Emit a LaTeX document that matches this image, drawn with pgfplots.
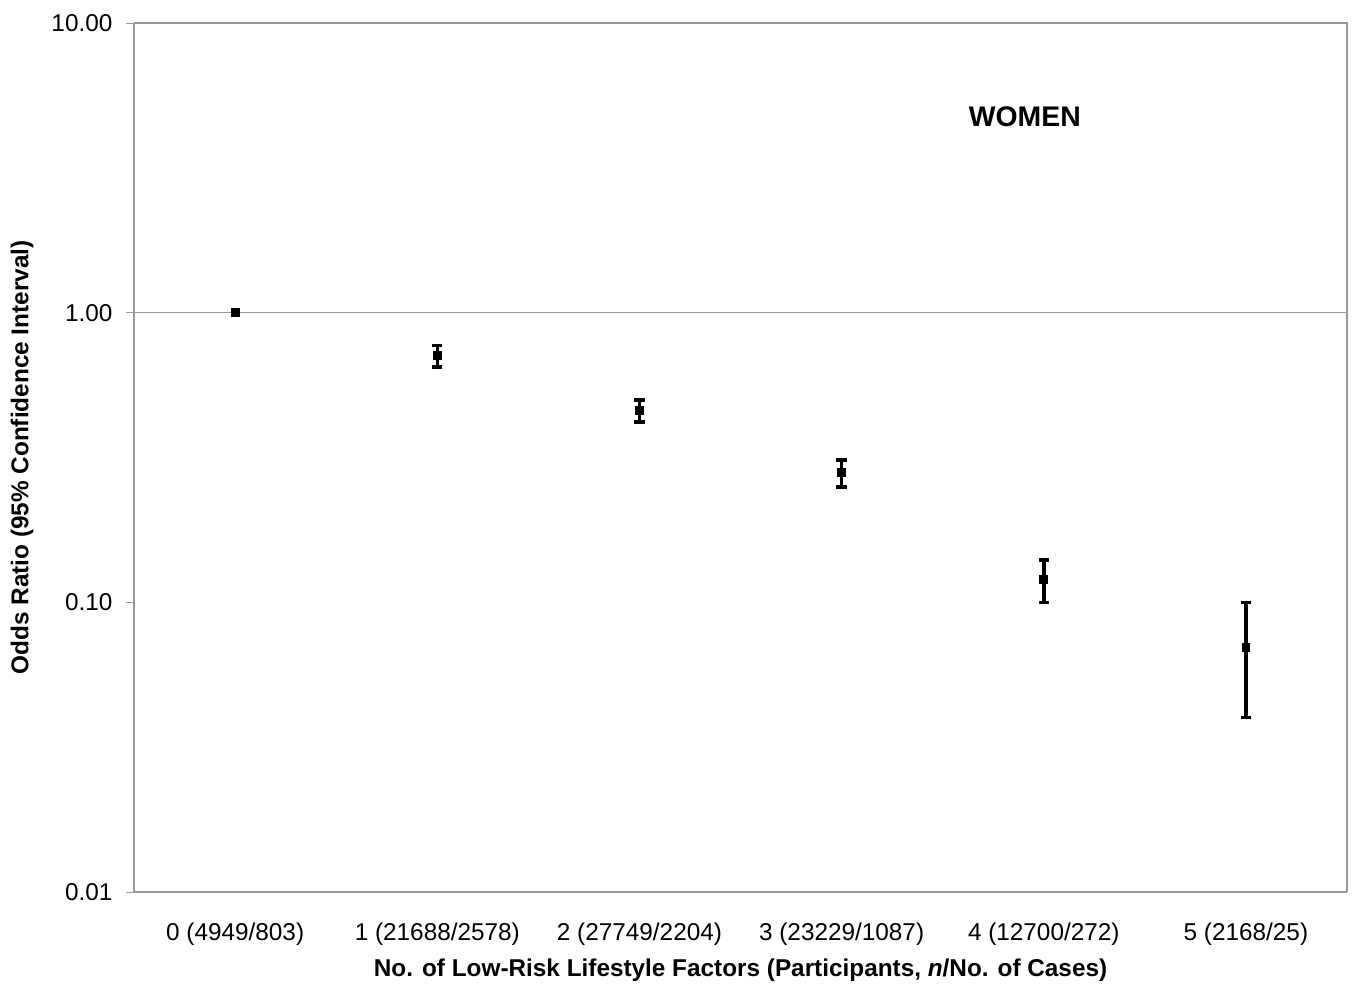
\documentclass[border=0pt]{standalone}
\usepackage{pgfplots}
\pgfplotsset{compat=1.18}
\usetikzlibrary{calc}
\usepackage{fontspec}
\setmainfont{Liberation Sans}
\begin{document}
\begin{tikzpicture}
\begin{axis}[
  name=ax,
  scale only axis,
  width=448.6pt, height=321.4pt,
  ymode=log,
  ymin=0.01, ymax=10,
  xmin=-0.5, xmax=5.5,
  xtick={0,1,2,3,4,5},
  xticklabels={0 (4949/803),1 (21688/2578),2 (27749/2204),3 (23229/1087),4 (12700/272),5 (2168/25)},
  ytick={0.01,0.1,1,10},
  yticklabels={0.01,0.10,1.00,10.00},
  yminorticks=false,
  x tick style={draw=none},
  y tick style={draw=gray!80},
  major tick length=3pt,
  tick align=outside,
  axis x line*=bottom, axis y line*=left,
  axis line style={draw=gray!80, line width=0.6pt},
  ticklabel style={font=\fontsize{9}{10}\selectfont},
  xticklabel style={yshift=-5pt},
  yticklabel style={xshift=-1.5pt},
  xlabel={\textbf{No. of Low-Risk Lifestyle Factors (Participants, \textit{n}/No. of Cases)}},
  ylabel={\textbf{Odds Ratio (95\% Confidence Interval)}},
  label style={font=\fontsize{9}{10}\selectfont},
  xlabel style={at={(axis description cs:0.5,-0.0896)}, anchor=center},
  ylabel style={at={(axis description cs:-0.0923,0.5)}, anchor=center},
  clip=false,
]
\draw[gray!80, line width=0.6pt] (rel axis cs:0,1) -- (rel axis cs:1,1) -- (rel axis cs:1,0);
\draw[gray!80, line width=0.6pt] (axis cs:-0.5,1) -- (axis cs:5.5,1);
\addplot[only marks, mark=square*, mark size=1.4pt, black,
  error bars/.cd, y dir=both, y explicit,
  error bar style={line width=1.3pt, black},
  error mark options={rotate=90, mark size=1.9pt, line width=1.3pt, black}]
  coordinates {
  (1,0.71) += (0,0.06) -= (0,0.06)
  (2,0.46) += (0,0.04) -= (0,0.04)
  (3,0.28) += (0,0.03) -= (0,0.03)
  (4,0.12) += (0,0.02) -= (0,0.02)
  (5,0.07) += (0,0.03) -= (0,0.03)
  };
\addplot[only marks, mark=square*, mark size=1.4pt, black] coordinates {(0,1.00)};
\node[font=\bfseries\fontsize{10.5}{12}\selectfont] at (axis cs:3.906,4.73) {WOMEN};
\end{axis}
\pgfresetboundingbox
\path ($(ax.south west)+(-49.6pt,-35.5pt)$) rectangle ($(ax.north east)+(1.85pt,8.5pt)$);
\end{tikzpicture}
\end{document}
